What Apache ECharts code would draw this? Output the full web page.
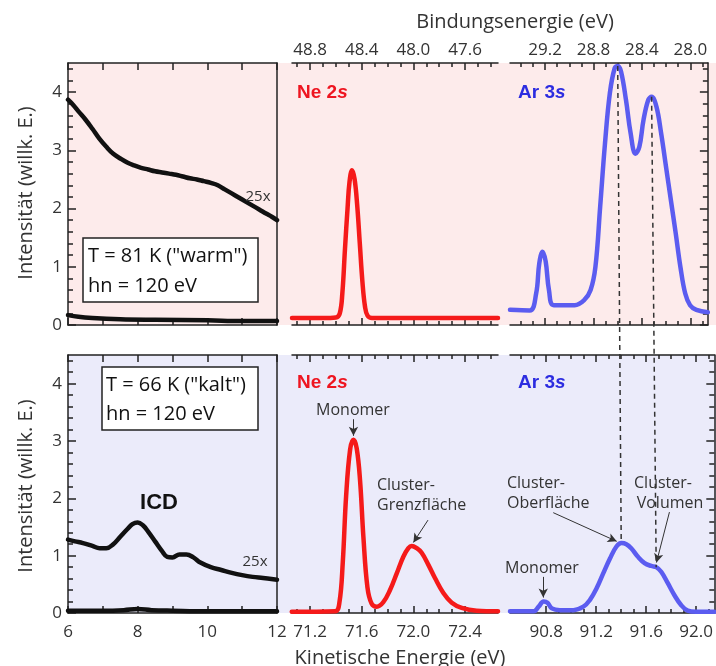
<!DOCTYPE html>
<html><head><meta charset="utf-8">
<script src="https://cdn.jsdelivr.net/npm/echarts@6/dist/echarts.min.js"></script>
<style>html,body{margin:0;padding:0;background:#fff}#c{width:716px;height:666px}</style>
</head><body><div id="c"></div>
<script>
// ---------- data ----------
const warm25x = [[6.0,3.87],[6.15,3.78],[6.3,3.67],[6.5,3.53],[6.7,3.37],[6.9,3.2],[7.1,3.06],[7.3,2.94],[7.5,2.86],[7.7,2.79],[7.9,2.74],[8.1,2.7],[8.3,2.67],[8.5,2.64],[8.7,2.62],[8.9,2.6],[9.1,2.58],[9.3,2.55],[9.5,2.52],[9.7,2.5],[9.9,2.47],[10.1,2.44],[10.3,2.4],[10.5,2.33],[10.7,2.26],[10.9,2.19],[11.1,2.12],[11.3,2.05],[11.5,1.98],[11.7,1.91],[11.85,1.86],[12.0,1.8]];
const warmRaw = [[6.0,0.17],[6.3,0.14],[6.7,0.12],[7.5,0.1],[8.5,0.09],[10,0.08],[11,0.07],[12,0.07]];
const cold25x = [[6.0,1.28],[6.2,1.25],[6.43,1.22],[6.7,1.17],[6.91,1.13],[7.1,1.13],[7.3,1.2],[7.5,1.33],[7.7,1.46],[7.85,1.55],[8.0,1.58],[8.15,1.53],[8.3,1.42],[8.5,1.25],[8.7,1.08],[8.85,0.98],[9.0,0.97],[9.2,1.02],[9.4,1.02],[9.6,0.97],[9.8,0.88],[10.1,0.8],[10.4,0.75],[10.7,0.7],[11.0,0.66],[11.3,0.63],[11.6,0.61],[12.0,0.58]];
const coldRaw = [[6,0.04],[7,0.04],[7.6,0.05],[8,0.07],[8.4,0.05],[9,0.04],[10,0.03],[12,0.03]];
const neWarm = [[71.06,0.12],[71.3,0.12],[71.4,0.13],[71.43,0.2],[71.45,0.55],[71.47,1.3],[71.49,2.0],[71.505,2.45],[71.525,2.66],[71.545,2.5],[71.565,2.05],[71.585,1.4],[71.605,0.75],[71.625,0.32],[71.645,0.16],[71.68,0.12],[72.0,0.12],[72.655,0.12]];
const arWarm = [[90.51,0.26],[90.673,0.25],[90.726,0.54],[90.752,1.06],[90.779,1.26],[90.805,1.09],[90.832,0.6],[90.872,0.34],[91.044,0.34],[91.124,0.43],[91.176,0.6],[91.216,1.0],[91.255,2.03],[91.295,3.12],[91.335,3.98],[91.375,4.41],[91.402,4.45],[91.428,4.35],[91.468,3.87],[91.507,3.29],[91.547,2.94],[91.579,3.06],[91.613,3.52],[91.653,3.87],[91.68,3.92],[91.72,3.75],[91.759,3.29],[91.799,2.72],[91.839,2.15],[91.879,1.58],[91.918,1.0],[91.958,0.54],[91.998,0.34],[92.05,0.26],[92.145,0.22]];
const neCold = [[71.058,0.02],[71.394,0.03],[71.427,0.18],[71.453,0.88],[71.479,2.04],[71.51,2.85],[71.536,3.02],[71.561,2.87],[71.587,2.31],[71.613,1.32],[71.644,0.45],[71.677,0.16],[71.716,0.11],[71.767,0.19],[71.819,0.4],[71.871,0.69],[71.922,0.98],[71.961,1.13],[71.987,1.17],[72.026,1.13],[72.064,1.05],[72.116,0.84],[72.167,0.61],[72.232,0.35],[72.297,0.18],[72.374,0.09],[72.49,0.04],[72.655,0.03]];
const arCold = [[90.51,0.03],[90.7,0.03],[90.739,0.11],[90.779,0.2],[90.81,0.18],[90.845,0.08],[90.91,0.05],[91.017,0.05],[91.097,0.11],[91.15,0.23],[91.203,0.43],[91.256,0.69],[91.31,0.95],[91.362,1.16],[91.402,1.22],[91.441,1.2],[91.48,1.13],[91.534,0.98],[91.587,0.87],[91.64,0.82],[91.68,0.8],[91.72,0.72],[91.773,0.52],[91.826,0.31],[91.879,0.14],[91.932,0.04],[91.998,0.02],[92.145,0.02]];

// tick labels
const leftXLabels = [6, 8, 10, 12];
const leftXTicks = [6, 7, 8, 9, 10, 11, 12];
const yLabels = [0, 1, 2, 3, 4];
const kinMidLabels = [71.2, 71.6, 72.0, 72.4];
const kinRightLabels = [90.8, 91.2, 91.6, 92.0];
const bindMidLabels = [48.8, 48.4, 48.0, 47.6];
const bindRightLabels = [29.2, 28.8, 28.4, 28.0];
// dashed guide lines: kinetic energy, top-peak intensity, bottom-peak intensity
const dashKin = [91.40, 91.68];
const dashTopY = [4.45, 3.92];
const dashBotY = [1.22, 0.80];

// ---------- layout ----------
const FONT = '"Open Sans", sans-serif';
const AX = '#222';
const TXT = '#333';
const cols = [
  {left:68, width:209, min:6, max:12},
  {left:292, width:206, min:71.06, max:72.655},
  {left:510, width:205, min:90.51, max:92.145}
];
const rows = [{top:63, height:262}, {top:355, height:258}];
const grid = [], xAxis = [], yAxis = [], series = [];
const mainX = [], mainY = [];

function steps(a, b, step, exclude) {
  const out = [];
  for (let k = Math.ceil(a / step - 1e-6); k * step <= b + 1e-6; k++) {
    const v = +(k * step).toFixed(3);
    if (!exclude || !exclude.some(e => Math.abs(e - v) < 1e-6)) out.push(v);
  }
  return out;
}
function mkX(gi, pos, min, max, ticks, len, labels, fmt, inverse, showLine) {
  xAxis.push({
    type:'value', gridIndex:gi, position:pos, min:min, max:max, inverse:!!inverse,
    axisLine:{show:showLine, onZero:false, lineStyle:{color:AX, width:1.5}},
    axisTick:{show:true, inside:true, length:len, customValues:ticks, lineStyle:{color:AX, width:1.5}},
    axisLabel:{show:!!labels, customValues:labels || [], margin: pos === 'top' ? 4 : 11,
      color:TXT, fontSize:17, fontFamily:FONT, formatter:fmt},
    splitLine:{show:false}, axisPointer:{show:false}
  });
  return xAxis.length - 1;
}
function mkY(gi, pos, ticks, len, labels, showLine, show) {
  yAxis.push({
    type:'value', gridIndex:gi, position:pos, min:0, max:4.5, show: show !== false,
    axisLine:{show:showLine, onZero:false, lineStyle:{color:AX, width:1.5}},
    axisTick:{show:!!ticks, inside:true, length:len, customValues:ticks || [], lineStyle:{color:AX, width:1.5}},
    axisLabel:{show:!!labels, customValues:labels || [], margin:6, color:TXT, fontSize:17, fontFamily:FONT,
      formatter: v => String(Math.round(v))},
    splitLine:{show:false}, axisPointer:{show:false}
  });
  return yAxis.length - 1;
}
const f1 = v => v.toFixed(1);
const fi = v => String(Math.round(v));

for (let r = 0; r < 2; r++) {
  for (let c = 0; c < 3; c++) {
    const gi = grid.length;
    const C = cols[c], R = rows[r];
    grid.push({left:C.left, top:R.top, width:C.width, height:R.height, show:false});
    if (c === 0) {
      mainX[gi] = mkX(gi, 'bottom', C.min, C.max, leftXTicks, 7, r === 1 ? leftXLabels : null, fi, false, true);
      mkX(gi, 'top', C.min, C.max, leftXTicks, 7, null, fi, false, true);
      mainY[gi] = mkY(gi, 'left', yLabels, 8, yLabels, true);
      mkY(gi, 'left', steps(0, 4.5, 0.2, yLabels), 5, null, false);
      mkY(gi, 'right', null, 0, null, true);
    } else {
      const kinL = c === 1 ? kinMidLabels : kinRightLabels;
      const bindL = c === 1 ? bindMidLabels : bindRightLabels;
      mainX[gi] = mkX(gi, 'bottom', C.min, C.max, kinL, 7, r === 1 ? kinL : null, f1, false, true);
      mkX(gi, 'bottom', C.min, C.max, steps(C.min, C.max, 0.1, kinL), 4, null, f1, false, false);
      const bmin = +(120 - C.max).toFixed(3), bmax = +(120 - C.min).toFixed(3);
      mkX(gi, 'top', bmin, bmax, bindL, 7, r === 0 ? bindL : null, f1, true, true);
      mkX(gi, 'top', bmin, bmax, steps(bmin, bmax, 0.1, bindL), 4, null, f1, true, false);
      mainY[gi] = mkY(gi, 'left', null, 0, null, false, false);
      if (c === 2) {
        mkY(gi, 'right', yLabels, 8, null, true);
        mkY(gi, 'right', steps(0, 4.5, 0.2, yLabels), 5, null, false);
      }
    }
  }
}

const BLACK = '#111', RED = '#f51a1a', BLUE = '#5b5cf0';
function line(gi, data, color, width, extra) {
  series.push(Object.assign({
    type:'line', xAxisIndex:mainX[gi], yAxisIndex:mainY[gi], data:data,
    showSymbol:false, symbol:'none', smooth:0.4,
    lineStyle:{color:color, width:width, join:'round', cap:'round'}, silent:true, clip:true, z:3
  }, extra || {}));
  return series.length - 1;
}
const arrowStyle = {silent:true, symbol:['none','arrow'], symbolSize:[7,9], label:{show:false},
  lineStyle:{color:'#333', width:1, type:'solid'}, emphasis:{disabled:true}, animation:false};

line(0, warm25x, BLACK, 4.5);
line(0, warmRaw, BLACK, 4.5);
line(1, neWarm, RED, 4.5);
const arWarmIdx = line(2, arWarm, BLUE, 4.5);
line(3, cold25x, BLACK, 4.5);
line(3, coldRaw, BLACK, 4.5);
line(4, neCold, RED, 4.5, {markLine: Object.assign({}, arrowStyle, {data:[
  [{coord:[71.536, 3.38]}, {coord:[71.536, 3.09]}],
  [{coord:[72.113, 1.62]}, {coord:[72.0, 1.23]}]
]})});
const arColdIdx = line(5, arCold, BLUE, 4.5, {markLine: Object.assign({}, arrowStyle, {data:[
  [{coord:[90.856, 1.75]}, {coord:[91.364, 1.25]}],
  [{coord:[91.786, 1.76]}, {coord:[91.682, 0.88]}],
  [{coord:[90.776, 0.63]}, {coord:[90.776, 0.27]}]
]})});

function txt(id, x, y, text, opt) {
  return {type:'text', id:id, x:x, y:y, z:10, rotation:(opt && opt.rotation) || 0,
    style:Object.assign({text:text, fill:TXT, fontSize:17, fontFamily:FONT, align:'center', verticalAlign:'middle'}, opt && opt.style)};
}
const boldRich = (color) => ({
  a:{fontFamily:'"Liberation Sans", Arial, sans-serif', fontWeight:'bold', fontSize:19, fill:color},
  b:{fontFamily:'"Liberation Sans", Arial, sans-serif', fontWeight:'bold', fontStyle:'italic', fontSize:19, fill:color}
});
const graphic = [
  {type:'rect', id:'bgTop', z:-10, shape:{x:68, y:63, width:648, height:262}, style:{fill:'#fdebeb'}},
  {type:'rect', id:'bgBot', z:-10, shape:{x:68, y:355, width:648, height:258}, style:{fill:'#ebebfa'}},
  txt('tTitle', 515, 22, 'Bindungsenergie (eV)', {style:{fontSize:20}}),
  txt('bTitle', 400, 658, 'Kinetische Energie (eV)', {style:{fontSize:20}}),
  txt('y1', 26, 193, 'Intensität (willk. E.)', {rotation:Math.PI/2, style:{fontSize:20}}),
  txt('y2', 26, 486, 'Intensität (willk. E.)', {rotation:Math.PI/2, style:{fontSize:20}}),
  {type:'rect', id:'box1', z:9, shape:{x:83, y:238, width:175, height:64}, style:{fill:'#fff', stroke:AX, lineWidth:1.5}},
  txt('b1a', 88, 256, 'T = 81 K ("warm")', {style:{fontSize:20, align:'left', fill:'#111'}}),
  txt('b1b', 88, 286, 'hn = 120 eV', {style:{fontSize:20, align:'left', fill:'#111'}}),
  {type:'rect', id:'box2', z:9, shape:{x:102, y:367, width:156, height:63}, style:{fill:'#fff', stroke:AX, lineWidth:1.5}},
  txt('b2a', 106, 385, 'T = 66 K ("kalt")', {style:{fontSize:20, align:'left', fill:'#111'}}),
  txt('b2b', 106, 414, 'hn = 120 eV', {style:{fontSize:20, align:'left', fill:'#111'}}),
  txt('x25a', 258, 197, '25x', {style:{fontSize:15}}),
  txt('x25b', 255, 562, '25x', {style:{fontSize:15}}),
  txt('icd', 159, 503, 'ICD', {style:{fontSize:22, fontWeight:'bold', fontFamily:'"Liberation Sans", Arial, sans-serif', fill:'#111'}}),
  txt('ne1', 297, 93, '{a|Ne 2}{b|s}', {style:{align:'left', rich:boldRich('#ee1520')}}),
  txt('ne2', 297, 383, '{a|Ne 2}{b|s}', {style:{align:'left', rich:boldRich('#ee1520')}}),
  txt('ar1', 518, 93, '{a|Ar 3}{b|s}', {style:{align:'left', rich:boldRich('#2c2ce0')}}),
  txt('ar2', 518, 383, '{a|Ar 3}{b|s}', {style:{align:'left', rich:boldRich('#2c2ce0')}}),
  txt('mono1', 353, 410, 'Monomer', {style:{fontSize:16}}),
  txt('gr1', 377, 485, 'Cluster-', {style:{fontSize:16, align:'left'}}),
  txt('gr2', 377, 505, 'Grenzfläche', {style:{fontSize:16, align:'left'}}),
  txt('ob1', 507, 483, 'Cluster-', {style:{fontSize:16, align:'left'}}),
  txt('ob2', 507, 503, 'Oberfläche', {style:{fontSize:16, align:'left'}}),
  txt('vo1', 663, 483, 'Cluster-', {style:{fontSize:16}}),
  txt('vo2', 670, 503, 'Volumen', {style:{fontSize:16}}),
  txt('mono2', 542, 568, 'Monomer', {style:{fontSize:16}})
];

const chart = echarts.init(document.getElementById('c'), null, {renderer:'canvas'});
chart.setOption({animation:false, backgroundColor:'#fff', grid:grid, xAxis:xAxis, yAxis:yAxis, series:series, graphic:{elements:graphic}});

const dashEls = dashKin.map((k, i) => {
  const p1 = chart.convertToPixel({seriesIndex:arWarmIdx}, [k, dashTopY[i]]);
  const p2 = chart.convertToPixel({seriesIndex:arColdIdx}, [k, dashBotY[i]]);
  return {type:'line', id:'dash' + i, z:8, shape:{x1:p1[0], y1:p1[1], x2:p2[0], y2:p2[1]},
    style:{stroke:'#333', lineWidth:1.5, lineDash:[5,4]}};
});
chart.setOption({graphic:{elements:dashEls}});
</script></body></html>
